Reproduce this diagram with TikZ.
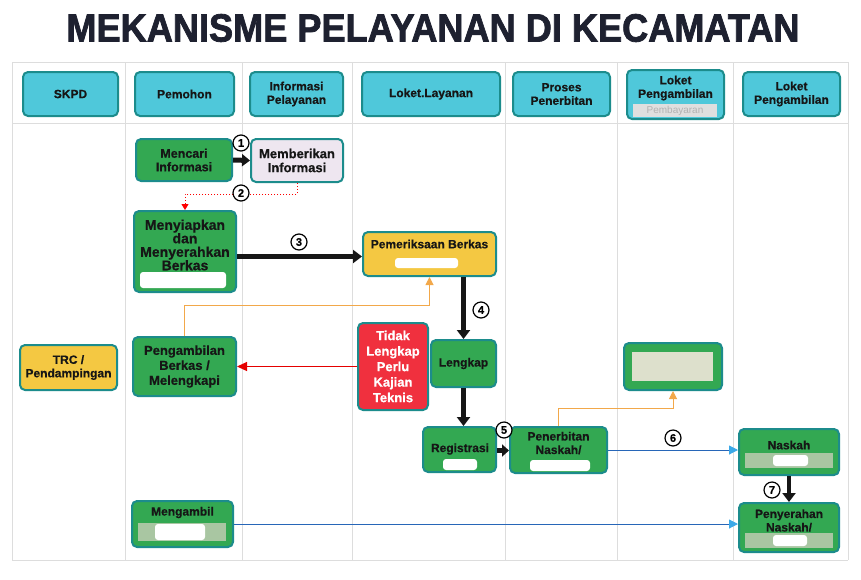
\documentclass[tikz,border=0pt]{standalone}
\usepackage{fontspec}
\usepackage{graphicx}
\setmainfont{Liberation Sans}[BoldFeatures={FakeBold=0.5}]
\newfontfamily\titlefont{Liberation Sans}[BoldFeatures={FakeBold=2}]
\usetikzlibrary{arrows.meta}
\definecolor{grn}{HTML}{33A852}
\definecolor{bord}{HTML}{1C8C8C}
\definecolor{cyanh}{HTML}{4FC8DA}
\definecolor{yel}{HTML}{F4C842}
\definecolor{redb}{HTML}{F0303E}
\definecolor{lav}{HTML}{EEE6F0}
\definecolor{stripc}{HTML}{A9C6A2}
\definecolor{gridc}{HTML}{DDDDDD}
\definecolor{titlec}{HTML}{1E2130}
\definecolor{bluel}{HTML}{2766B8}
\definecolor{bluetip}{HTML}{3AA8E8}
\definecolor{orn}{HTML}{F2A84A}
\definecolor{blk}{HTML}{161616}
\definecolor{beige}{HTML}{DDE0CC}
\begin{document}
\begin{tikzpicture}[x=1pt,y=-1pt,
  box/.style={draw=bord, line width=2pt, rounded corners=5pt, align=center,
    font=\bfseries\fontsize{12}{13.5}\selectfont, inner sep=0pt, text=blk},
  hdr/.style={box, fill=cyanh, minimum height=44pt},
  gbox/.style={box, fill=grn},
  txt/.style={align=center, font=\bfseries\fontsize{12}{13.5}\selectfont, inner sep=0pt, text=blk},
  pill/.style={fill=white, rounded corners=3pt, inner sep=0pt},
  stripbox/.style={fill=stripc, inner sep=0pt},
  numc/.style={circle, draw=black, fill=white, line width=1.2pt, minimum size=16pt, inner sep=0pt, font=\bfseries\fontsize{11}{11}\selectfont},
  thickarr/.style={draw=blk, line width=4.5pt, -{Triangle[length=9pt,width=13pt]}},
  bluearr/.style={draw=bluel, line width=1pt, -{Triangle[length=9pt,width=9pt,color=bluetip]}},
  gridl/.style={draw=gridc, line width=0.6pt}
]
\useasboundingbox (0,0) rectangle (861,579);
\fill[white] (0,0) rectangle (861,579);

% grid
\foreach \gx in {12,125,242,352,505,617,733,848}
  \draw[gridl] (\gx,62) -- (\gx,560);
\draw[gridl] (12,62) -- (848,62);
\draw[gridl] (12,123) -- (848,123);
\draw[gridl] (12,560) -- (848,560);

% title
\node[inner sep=0pt, text=titlec] (title) at (433,28)
  {\resizebox{733pt}{27.5pt}{\titlefont\bfseries MEKANISME PELAYANAN DI KECAMATAN}};

% headers
\node[hdr, minimum width=95pt] (h1) at (70.5,94) {SKPD};
\node[hdr, minimum width=99pt] (h2) at (184.5,94) {Pemohon};
\node[hdr, minimum width=93pt] (h3) at (296.5,94) {Informasi\\Pelayanan};
\node[hdr, minimum width=138pt] (h4) at (431,94) {Loket.Layanan};
\node[hdr, minimum width=97pt] (h5) at (561.5,94) {Proses\\Penerbitan};
\node[hdr, minimum width=97pt, minimum height=49pt] (h6) at (675.5,94.5) {};
\node[txt] (h6t) at (675.5,88) {Loket\\Pengambilan};
\node[fill=gray!25, minimum width=84pt, minimum height=13pt, inner sep=0pt,
  text=gray!60, font=\fontsize{10}{10}\selectfont] (h6s) at (675,110.5) {Pembayaran};
\node[hdr, minimum width=97pt] (h7) at (791.5,94) {Loket\\Pengambilan};

% row 1
\node[gbox, minimum width=96pt, minimum height=42pt, font=\bfseries\fontsize{12.5}{13.5}\selectfont] (menc) at (184,160) {Mencari\\Informasi};
\node[box, fill=lav, minimum width=92pt, minimum height=43pt, font=\bfseries\fontsize{13}{14}\selectfont] (memb) at (297,160.5) {Memberikan\\Informasi};

% Menyiapkan
\node[gbox, minimum width=102pt, minimum height=81pt] (meny) at (185,251.5) {};
\node[txt, font=\bfseries\fontsize{14}{13.5}\selectfont] (menyt) at (185,245) {Menyiapkan\\dan\\Menyerahkan\\Berkas};
\node[pill, minimum width=86pt, minimum height=16pt] (menyp) at (183,280) {};

% Pemeriksaan
\node[box, fill=yel, minimum width=133pt, minimum height=44pt] (pem) at (429.5,254) {};
\node[txt] (pemt) at (429.5,244) {Pemeriksaan Berkas};
\node[pill, minimum width=63pt, minimum height=10pt] (pemp) at (426.5,263) {};

% middle row
\node[gbox, minimum width=65pt, minimum height=47pt] (leng) at (463.5,363.5) {Lengkap};
\node[box, fill=redb, text=white, minimum width=70pt, minimum height=87pt, font=\bfseries\fontsize{13}{15.5}\selectfont] (tidak) at (393,366.5) {Tidak\\Lengkap\\Perlu\\Kajian\\Teknis};
\node[gbox, minimum width=103pt, minimum height=59pt, font=\bfseries\fontsize{13}{15}\selectfont] (peng) at (184.5,366.5) {Pengambilan\\Berkas /\\Melengkapi};
\node[box, fill=yel, minimum width=97pt, minimum height=45pt] (trc) at (68.5,367.5) {TRC /\\Pendampingan};
\node[gbox, minimum width=98pt, minimum height=47pt] (blank) at (673,366.5) {};
\node[fill=beige, minimum width=81pt, minimum height=29pt, inner sep=0pt] (blanks) at (672.5,366.5) {};

% Registrasi
\node[gbox, minimum width=73pt, minimum height=45pt] (reg) at (459.5,449.5) {};
\node[txt] (regt) at (460,449) {Registrasi};
\node[pill, minimum width=34pt, minimum height=11pt] (regp) at (460,464.5) {};

% Penerbitan
\node[gbox, minimum width=97pt, minimum height=46pt] (pen) at (558.5,450) {};
\node[txt] (pent) at (558.5,443) {Penerbitan\\Naskah/};
\node[pill, minimum width=60pt, minimum height=11pt] (penp) at (560,465.5) {};

% Naskah
\node[gbox, minimum width=100pt, minimum height=46pt] (nas) at (789,452) {};
\node[txt] (nast) at (789,445) {Naskah};
\node[stripbox, minimum width=88pt, minimum height=15pt] (nass) at (789,460.5) {};
\node[pill, minimum width=35pt, minimum height=11pt] (nasp) at (790.5,460.5) {};

% Penyerahan
\node[gbox, minimum width=100pt, minimum height=49pt] (peny) at (789,527.5) {};
\node[txt] (penyt) at (789,520.5) {Penyerahan\\Naskah/};
\node[stripbox, minimum width=88pt, minimum height=15pt] (penys) at (789,540.5) {};
\node[pill, minimum width=34pt, minimum height=11pt] (penyp) at (790,540.5) {};

% Mengambil
\node[gbox, minimum width=101pt, minimum height=46pt] (meng) at (182.5,524) {};
\node[txt] (mengt) at (182.5,512.5) {Mengambil};
\node[stripbox, minimum width=88pt, minimum height=18pt] (mengs) at (182,532) {};
\node[pill, minimum width=50pt, minimum height=16pt] (mengp) at (180,532) {};

% connectors
\draw[draw=blk, line width=5pt, -{Triangle[length=8pt,width=12pt]}] (menc.east) -- (memb.west);
\draw[red, line width=1pt, dotted, -{Triangle[length=6pt,width=7pt]}] (memb.south) -- ++(0,11) -| (meny.north);
\draw[thickarr] ([yshift=-5pt]meny.east) -- ([yshift=-5pt]meny.east -| pem.west);
\draw[thickarr] (leng.north |- pem.south) -- (leng.north);
\draw[thickarr] (leng.south) -- (leng.south |- reg.north);
\draw[draw=blk, line width=5pt, -{Triangle[length=7pt,width=12pt]}] ([yshift=-1pt]reg.east) -- ([yshift=-1pt]reg.east -| pen.west);
\draw[thickarr] (nas.south) -- (peny.north);
\draw[red!90!black, line width=1.2pt, -{Triangle[length=10pt,width=9pt]}] (tidak.west) -- (tidak.west -| peng.east);
\draw[orn, line width=1pt, -{Triangle[length=8pt,width=8pt]}] (peng.north) -- ++(0,-31) -| (pem.south);
\draw[orn, line width=1pt, -{Triangle[length=8pt,width=8pt]}] (pen.north) -- ++(0,-18) -| (blank.south);
\draw[bluearr] (pen.east) -- (pen.east -| nas.west);
\draw[bluearr] (meng.east) -- (meng.east -| peny.west);

% numbers
\node[numc] (n1) at (241,143) {1};
\node[numc] (n2) at (241,193) {2};
\node[numc] (n3) at (299,242) {3};
\node[numc] (n4) at (481,310) {4};
\node[numc] (n5) at (504,430) {5};
\node[numc] (n6) at (673,438) {6};
\node[numc] (n7) at (772,490) {7};
\end{tikzpicture}
\end{document}
